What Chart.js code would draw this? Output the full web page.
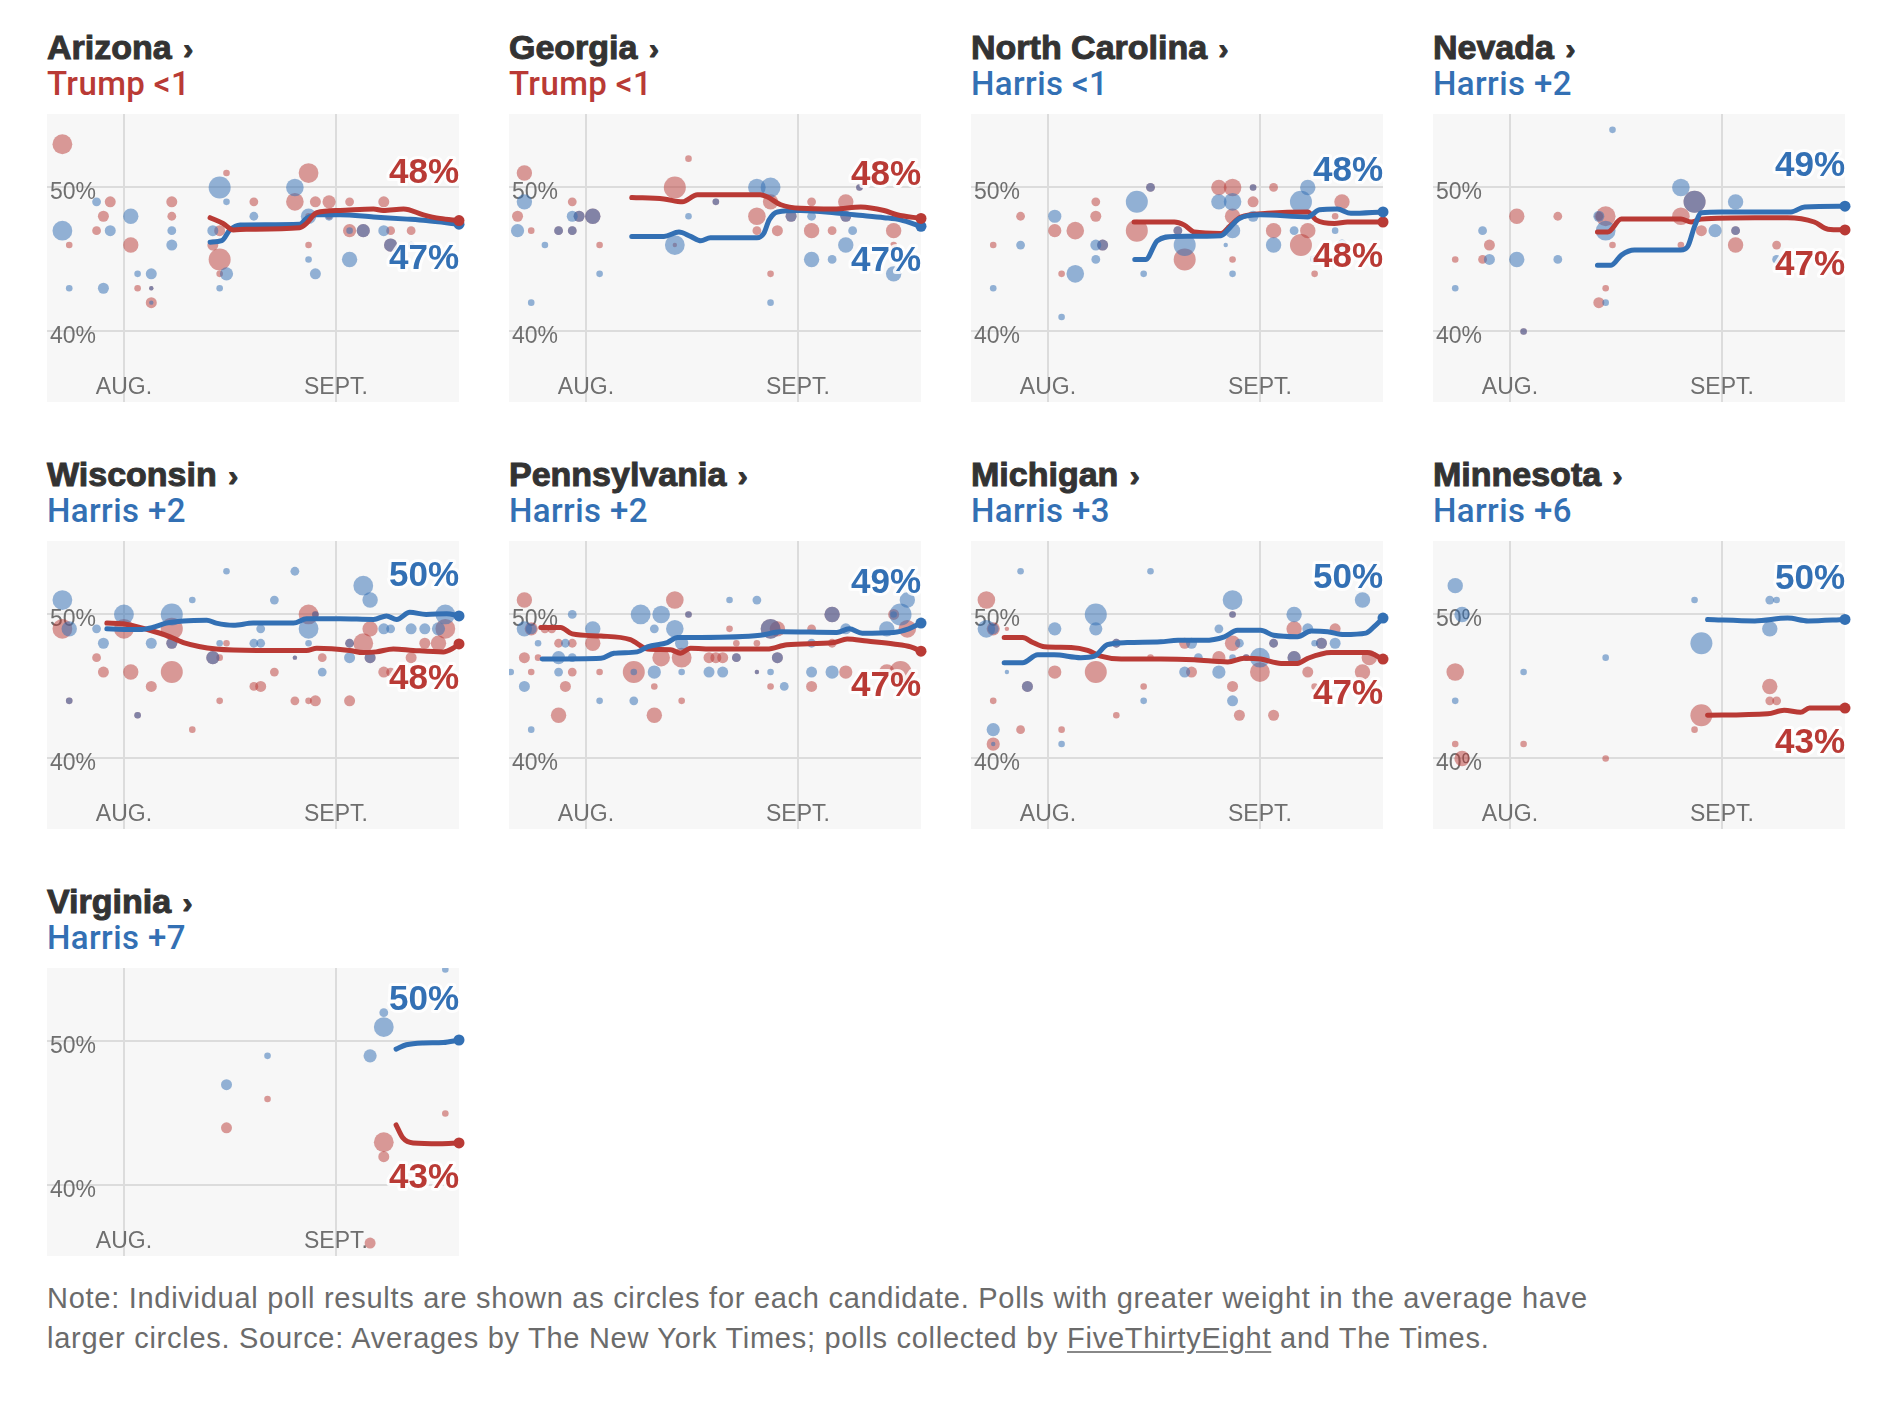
<!DOCTYPE html>
<html>
<head>
<meta charset="utf-8">
<script src="https://cdn.jsdelivr.net/npm/chart.js@4.4.1/dist/chart.umd.min.js"></script>
<style>
  html, body { margin: 0; padding: 0; background: #fff; }
  body { width: 1900px; height: 1406px; position: relative; overflow: hidden; }
  .state { position: absolute; font: bold 34px "Liberation Sans", Arial, sans-serif; color: #333; line-height: 1; white-space: nowrap; -webkit-text-stroke: 1px #333; }
  .state .chev { font-size: 30px; margin-left: 2px; }
  .lead { position: absolute; font: 500 33px Roboto, "Liberation Sans", sans-serif; letter-spacing: 0.4px; line-height: 1; white-space: nowrap; }
  canvas.panel { position: absolute; }
  .note { position: absolute; left: 47px; top: 1278px; margin: 0; font: 29px "Liberation Sans", Arial, sans-serif; letter-spacing: 0.72px; line-height: 40px; color: #6b6b6b; white-space: nowrap; }
  .note u { text-decoration-color: #888; text-underline-offset: 3px; }
</style>
</head>
<body>
<p class="note">Note: Individual poll results are shown as circles for each candidate. Polls with greater weight in the average have<br>larger circles. Source: Averages by The New York Times; polls collected by <u>FiveThirtyEight</u> and The Times.</p>
<script>
// days are counted from Aug. 1 (0 = Aug. 1, 31 = Sept. 1)
const states = ['Arizona', 'Georgia', 'North Carolina', 'Nevada', 'Wisconsin', 'Pennsylvania', 'Michigan', 'Minnesota', 'Virginia'];
const leaders = ['Trump', 'Trump', 'Harris', 'Harris', 'Harris', 'Harris', 'Harris', 'Harris', 'Harris'];
const margins = ['<1', '<1', '<1', '+2', '+2', '+2', '+3', '+6', '+7'];
const finalHarris = [47, 47, 48, 49, 50, 49, 50, 50, 50];
const finalTrump = [48, 48, 48, 47, 48, 47, 47, 43, 43];
const yTicks = [40, 50];
const monthTicks = [0, 31];
const monthLabels = ['AUG.', 'SEPT.'];

// averages: [day, pct]; polls: [day, pct, weight]
const azTrumpAvg = [[12.6,47.9],[14.5,47.5],[16,47.05],[17.9,47.1],[25.7,47.2],[26.7,47.5],[28.2,48.25],[31.6,48.4],[36.5,48.5],[37.9,48.4],[40.9,48.5],[43.8,48.1],[46.2,47.85],[49,47.7]];
const azHarrisAvg = [[12.6,46.2],[14.3,46.3],[15.5,47.05],[17,47.4],[25.7,47.45],[26.7,47.85],[28.2,48.1],[31.6,48.1],[36.5,47.95],[41.4,47.8],[44.2,47.7],[49,47.45]];
const azTrumpPolls = [[-9,53,.9],[-8,46,.3],[-2,49,.5],[-3,48,.5],[-4,47,.4],[1,46,.7],[2,43,.3],[4,43,.2],[4,42,.5],[7,49,.5],[7,48,.4],[15,51,.3],[19,49,.4],[14,47,.5],[13,46,.5],[14,45,1],[14,44,.3],[25,49,.8],[27,51,.9],[28,49,.5],[30,49,.6],[33,49,.4],[38,49,.5],[27,46,.3],[33,47,.6],[35,47,.6],[39,47,.4],[42,47,.4],[39,46,.6],[27,48,.3],[30,48,.3]];
const azHarrisPolls = [[-9,47,.9],[-8,43,.3],[-4,49,.4],[-2,47,.5],[-3,43,.5],[1,48,.7],[2,44,.3],[4,44,.5],[4,43,.2],[4,42,.2],[7,47,.4],[7,46,.5],[14,50,1],[15,49,.3],[19,48,.4],[13,47,.5],[15,44,.6],[14,43,.3],[25,50,.8],[27,48,.7],[27,45,.3],[28,44,.5],[30,48,.4],[33,47,.3],[35,47,.6],[38,47,.5],[39,46,.6],[33,45,.7],[42,46,.3]];

const gaTrumpAvg = [[6.7,49.3],[11.4,49.2],[14.1,49],[16.3,49.5],[25.5,49.5],[26.5,49.35],[28.5,48.8],[31.4,48.55],[36.3,48.5],[40.2,48.65],[43.6,48.4],[45.5,48.1],[49,47.85]];
const gaHarrisAvg = [[6.7,46.6],[11.4,46.6],[13.6,46.9],[15.3,46.6],[16.8,46.3],[18.2,46.5],[25,46.5],[26,46.8],[26.8,47.75],[28,48.3],[31.4,48.4],[36.3,48.25],[39.2,48.1],[43.6,47.9],[46,47.75],[49,47.3]];
const gaTrumpPolls = [[-9,51,.7],[-10,48,.5],[-8,47,.3],[-4,47,.4],[-2,49,.4],[-1,48,.5],[-2,47,.4],[1,48,.7],[2,46,.3],[15,52,.3],[13,50,1],[19,49,.3],[13,46,.2],[27,49,.7],[25,48,.8],[25,47,.4],[28,47,.5],[30,48,.5],[27,44,.3],[33,49,.4],[33,47,.7],[36,47,.4],[38,49,.7],[40,50,.3],[38,48,.5],[45,47,.7],[45,46,.3]];
const gaHarrisPolls = [[-9,49,.7],[-10,47,.6],[-8,42,.3],[-6,46,.3],[-4,47,.4],[-2,48,.5],[-1,48,.5],[-2,47,.4],[1,48,.7],[2,44,.3],[15,48,.3],[19,49,.3],[13,46,.9],[25,50,.8],[27,50,.9],[30,48,.5],[27,42,.3],[33,48,.4],[33,45,.7],[36,45,.4],[40,50,.3],[38,48,.5],[39,47,.4],[38,46,.7],[45,44,.7]];

const ncTrumpAvg = [[12.6,47.6],[18.5,47.6],[19.9,47.4],[21.4,46.9],[25.3,46.8],[26.8,47.4],[28.2,47.95],[32.1,48.2],[38,48.3],[39.2,47.75],[41.9,47.5],[43.8,47.6],[49,47.6]];
const ncHarrisAvg = [[12.7,45],[14.3,45],[16,46.3],[18.5,46.6],[25.3,46.65],[26.3,47.05],[28,47.85],[31.1,48.1],[38,47.95],[39.7,48.45],[42.3,48.5],[44.3,48.2],[49,48.3]];
const ncTrumpPolls = [[-8,46,.3],[-4,48,.4],[1,47,.6],[4,47,.8],[2,44,.3],[7,49,.4],[7,48,.5],[8,46,.5],[15,50,.4],[13,47,1],[19,47,.4],[20,45,1],[25,50,.7],[27,50,.8],[27,48,.7],[27,45,.3],[30,50,.3],[30,49,.5],[33,50,.4],[33,47,.7],[38,47,.7],[37,46,1],[43,49,.7],[42,48,.3],[39,44,.3]];
const ncHarrisPolls = [[-8,43,.3],[-4,46,.4],[1,48,.6],[4,44,.8],[2,41,.3],[7,46,.5],[8,46,.5],[7,45,.4],[13,49,1],[15,50,.4],[14,44,.3],[19,47,.4],[20,46,1],[25,49,.7],[27,49,.8],[27,47,.7],[26,46,.2],[27,44,.3],[30,50,.3],[30,48,.5],[33,46,.7],[36,47,.4],[38,50,.7],[37,49,1],[42,47,.3],[43,46,.5],[39,45,.4]];

const nvTrumpAvg = [[12.8,46.9],[14.3,46.9],[16.3,47.8],[25,47.8],[26.5,47.6],[28,47.8],[35.8,47.9],[40.6,47.9],[44.5,47.6],[46.5,47.1],[49,47.05]];
const nvHarrisAvg = [[12.8,44.6],[14.8,44.6],[16.3,45.3],[18.2,45.65],[25,45.65],[26,45.9],[27,47.3],[28,48.25],[30.9,48.3],[35.8,48.3],[41.1,48.3],[43.1,48.65],[49,48.7]];
const nvTrumpPolls = [[-8,45,.3],[-3,46,.5],[-4,45,.4],[1,48,.7],[2,40,.3],[7,48,.4],[14,48,.9],[15,46,.3],[14,43,.3],[13,42,.5],[25,48,.8],[27,49,1],[25,46,.3],[28,47,.5],[33,47,.4],[33,46,.7],[39,46,.4],[13,48,.4]];
const nvHarrisPolls = [[15,54,.3],[-8,43,.3],[-4,47,.4],[-3,45,.5],[1,45,.7],[2,40,.3],[7,45,.4],[13,48,.5],[14,47,.9],[14,42,.3],[25,50,.8],[27,49,1],[33,49,.7],[30,47,.6],[33,47,.4],[39,45,.4]];

const wiTrumpAvg = [[-2.5,49.4],[-0.1,49.35],[3.8,48.9],[6.2,48.55],[8.7,48.05],[13.5,47.6],[19.4,47.5],[26.7,47.5],[28.2,47.65],[33,47.5],[35,47.35],[36.9,47.4],[39.4,47.6],[42.3,47.5],[46.7,47.4],[48.1,47.65],[49,47.95]];
const wiHarrisAvg = [[-2.5,49],[2.3,48.95],[4.2,49.1],[6.2,49.4],[8.7,49.55],[12.1,49.6],[13.5,49.4],[16,49.25],[18.9,49.4],[24.8,49.4],[26.7,49.7],[31.6,49.7],[36.5,49.65],[38.4,49.9],[39.9,49.65],[41.8,50.15],[44.2,50],[47.2,50.05],[49,49.9]];
const wiTrumpPolls = [[-9,49,.9],[-8,44,.3],[-4,47,.4],[-3,46,.5],[0,49,.9],[1,46,.7],[2,43,.3],[4,45,.5],[7,49,1],[7,48,.5],[7,46,1],[10,42,.3],[13,47,.6],[15,48,.3],[14,47,.3],[14,44,.3],[19,45,.4],[20,45,.5],[22,46,.4],[25,44,.4],[25,47,.2],[27,50,.9],[28,50,.3],[27,44,.3],[28,44,.5],[29,47,.4],[36,49,.7],[35,48,.9],[33,48,.4],[36,47,.5],[33,44,.5],[38,46,.5],[39,46,.4],[42,47,.5],[44,48,.5],[47,49,.9],[46,48,.7]];
const wiHarrisPolls = [[-9,51,.9],[-8,49,.7],[-8,44,.3],[-4,49,.4],[-3,48,.5],[0,50,.9],[2,43,.3],[4,48,.5],[7,50,1],[7,48,.5],[10,51,.3],[15,53,.3],[13,47,.6],[14,48,.3],[19,48,.4],[20,48,.4],[20,49,.4],[22,51,.4],[25,53,.4],[25,47,.2],[27,49,.9],[27,48,.3],[28,50,.3],[29,46,.4],[35,52,.9],[36,51,.7],[33,48,.4],[33,47,.5],[36,47,.5],[38,49,.5],[39,49,.4],[42,49,.5],[44,49,.5],[47,50,.9],[46,49,.6]];

const paTrumpAvg = [[-6.6,49.1],[-3.7,49.1],[-2,48.65],[2.2,48.5],[6.5,48.25],[9,47.6],[12.4,47.55],[13.8,47.3],[15.3,47.65],[18.7,47.6],[26.5,47.6],[29.4,47.9],[36.3,48.05],[38.2,48.3],[41.1,48.15],[45,47.95],[47.5,47.75],[49,47.45]];
const paHarrisAvg = [[-6.4,46.9],[2.2,46.95],[4.1,47.3],[7.5,47.4],[9,47.75],[11.9,48.05],[13.4,48.4],[16.8,48.4],[25.5,48.55],[28.5,48.8],[36.7,48.75],[38.5,49],[40.4,48.7],[45,48.75],[47.2,49],[49,49.4]];
const paTrumpPolls = [[-9,51,.7],[-8,49,.6],[-6,49,.4],[-5,49,.4],[-9,47,.5],[-7,47,.3],[-8,46,.3],[-4,48,.4],[-2,48,.4],[-2,46,.4],[-3,45,.5],[-4,43,.7],[1,48,.7],[2,46,.3],[13,51,.8],[15,50,.3],[7,46,1],[11,47,.8],[14,47,.9],[10,45,.3],[14,44,.3],[10,43,.7],[21,49,.3],[18,47,.5],[19,47,.5],[20,47,.5],[22,47,.4],[22,48,.3],[25,48,.3],[27,49,.9],[28,49,.7],[28,47,.5],[25,46,.2],[27,45,.3],[36,50,.7],[33,49,.4],[33,45,.5],[38,46,.6],[36,48,.4],[45,50,.5],[47,49,.8],[46,46,1],[44,46,.7]];
const paHarrisPolls = [[-9,49,.7],[-8,49,.5],[-2,50,.4],[-7,48,.3],[-9,45,.5],[-8,42,.3],[-11,46,.3],[-4,47,.6],[-3,48,.4],[-2,47,.4],[-4,46,.4],[1,49,.7],[2,44,.3],[8,50,.9],[11,50,.8],[13,49,.8],[15,50,.3],[10,49,.4],[10,46,.6],[14,48,.6],[14,46,.3],[7,44,.4],[7,46,.3],[21,51,.3],[25,51,.4],[22,47,.4],[18,46,.5],[20,46,.5],[27,49,.9],[28,47,.5],[25,46,.2],[27,46,.3],[29,45,.4],[36,50,.7],[33,48,.4],[33,46,.5],[36,46,.6],[38,49,.5],[46,50,1],[47,51,.7],[44,49,.7],[45,50,.3]];

const miTrumpAvg = [[-6.4,48.4],[-3.7,48.4],[-2.2,48.05],[-0.5,47.75],[3.4,47.7],[5.8,47.5],[7.7,47.1],[10.7,46.9],[16.5,46.9],[21.4,46.85],[26.3,46.7],[28.7,46.95],[31.1,46.9],[34.1,46.6],[36.5,46.6],[38,46.95],[41.4,47.35],[46.7,47.35],[49,46.9]];
const miHarrisAvg = [[-6.4,46.65],[-3.7,46.65],[-1.5,47.2],[0.9,47.2],[4.8,47],[6.8,47.1],[8.7,47.9],[11.6,48.05],[16.5,48.1],[19,48.2],[22.9,48.2],[25.8,48.45],[27.7,48.9],[31.1,48.9],[33,48.55],[36.5,48.45],[38.5,48.85],[40.9,48.8],[43.3,48.6],[46.5,48.7],[47.7,49.15],[49,49.75]];
const miTrumpPolls = [[-9,51,.8],[-8,49,.6],[-6,49,.2],[-3,45,.5],[-8,44,.3],[-4,42,.4],[-8,41,.6],[1,46,.6],[2,42,.3],[7,46,1],[10,48,.4],[10,43,.3],[15,47,.3],[14,45,.3],[20,48,.5],[21,46,.5],[25,47,.6],[27,50,.3],[27,48,.7],[29,47,.3],[27,45,.5],[28,43,.5],[31,46,.9],[33,48,.4],[33,43,.5],[36,49,.7],[36,47,.6],[38,46,.5],[39,45,.3],[40,48,.5],[42,49,.5],[46,46,.7],[47,47,.7]];
const miHarrisPolls = [[-9,49,.8],[-8,49,.5],[-6,46,.2],[-4,53,.3],[-3,45,.5],[-8,42,.6],[-8,41,.2],[1,49,.6],[2,41,.3],[7,50,1],[7,49,.6],[10,48,.4],[15,53,.3],[14,44,.3],[21,48,.5],[20,46,.5],[22,47,.4],[25,49,.4],[25,46,.6],[27,51,.9],[27,50,.3],[28,48,.4],[27,47,.3],[29,47,.3],[27,44,.5],[31,47,.9],[33,48,.4],[36,50,.7],[36,47,.6],[38,49,.5],[39,48,.3],[40,48,.5],[42,48,.5],[46,51,.7]];

const mnTrumpAvg = [[28.9,43],[37.7,43.1],[40.1,43.35],[42.5,43.2],[43.8,43.5],[49,43.5]];
const mnHarrisAvg = [[28.9,49.65],[35.8,49.55],[40.6,49.75],[43.6,49.55],[49,49.65]];
const mnTrumpPolls = [[-8,46,.8],[-8,41,.3],[-7,40,.7],[2,41,.3],[14,40,.3],[28,43,1],[27,42,.3],[38,45,.7],[38,44,.4],[39,44,.4]];
const mnHarrisPolls = [[-8,52,.7],[-7,50,.7],[-8,44,.3],[2,46,.3],[14,47,.3],[27,51,.3],[28,48,1],[38,51,.4],[39,51,.3],[38,49,.7]];

const vaTrumpAvg = [[39.8,44.2],[40.8,43.3],[42.3,42.95],[46.2,42.9],[49,42.95]];
const vaHarrisAvg = [[39.8,49.47],[41.3,49.77],[43.8,49.9],[46.7,49.93],[49,50.1]];
const vaTrumpPolls = [[15,44,.5],[21,46,.3],[47,45,.3],[38,43,.9],[38,42,.5],[36,36,.5]];
const vaHarrisPolls = [[15,47,.5],[21,49,.3],[36,49,.6],[38,51,.9],[38,52,.4],[47,55,.3]];

const trumpAvgs = [azTrumpAvg, gaTrumpAvg, ncTrumpAvg, nvTrumpAvg, wiTrumpAvg, paTrumpAvg, miTrumpAvg, mnTrumpAvg, vaTrumpAvg];
const harrisAvgs = [azHarrisAvg, gaHarrisAvg, ncHarrisAvg, nvHarrisAvg, wiHarrisAvg, paHarrisAvg, miHarrisAvg, mnHarrisAvg, vaHarrisAvg];
const trumpPolls = [azTrumpPolls, gaTrumpPolls, ncTrumpPolls, nvTrumpPolls, wiTrumpPolls, paTrumpPolls, miTrumpPolls, mnTrumpPolls, vaTrumpPolls];
const harrisPolls = [azHarrisPolls, gaHarrisPolls, ncHarrisPolls, nvHarrisPolls, wiHarrisPolls, paHarrisPolls, miHarrisPolls, mnHarrisPolls, vaHarrisPolls];

const RED = '#b93a35';
const BLUE = '#3370b4';
const RED_DOT = 'rgba(185,58,53,0.5)';
const BLUE_DOT = 'rgba(51,112,180,0.52)';

const panelDecor = {
  id: 'panelDecor',
  beforeDraw(chart) {
    const { ctx, chartArea: a } = chart;
    ctx.save();
    ctx.fillStyle = '#f7f7f7';
    ctx.fillRect(a.left, a.top, a.right - a.left, a.bottom - a.top);
    ctx.restore();
  },
  beforeDatasetsDraw(chart) {
    // axis labels sit inside the plot, under the dots
    const { ctx, chartArea: a, scales: { x, y } } = chart;
    ctx.save();
    ctx.fillStyle = '#6f6f6f';
    ctx.font = '23px "Liberation Sans", Arial, sans-serif';
    ctx.textBaseline = 'alphabetic';
    ctx.textAlign = 'left';
    yTicks.forEach(v => ctx.fillText(v + '%', a.left + 3, y.getPixelForValue(v) + 12));
    ctx.textAlign = 'center';
    monthTicks.forEach((d, i) => ctx.fillText(monthLabels[i], x.getPixelForValue(d), a.bottom - 8));
    ctx.restore();
  },
  afterDatasetsDraw(chart, args, opts) {
    const { ctx, chartArea: a } = chart;
    const ends = opts.lines.map(l => {
      const pts = chart.getDatasetMeta(l.index).data;
      return { y: pts[pts.length - 1].y, text: l.text, color: l.color };
    });
    ends.sort((p, q) => p.y - q.y);
    // lower label hangs below its line, upper label sits above and keeps clear of it
    const lowY = ends[1].y + 35;
    const highY = Math.min(ends[0].y - 40, lowY - 86);
    ctx.save();
    ctx.font = 'bold 35px "Liberation Sans", Arial, sans-serif';
    ctx.textAlign = 'right';
    ctx.textBaseline = 'middle';
    ctx.lineJoin = 'round';
    ends.forEach((e, i) => {
      const ty = i === 0 ? highY : lowY;
      ctx.strokeStyle = 'rgba(255,255,255,0.85)';
      ctx.lineWidth = 6;
      ctx.strokeText(e.text, a.right, ty);
      ctx.fillStyle = e.color;
      ctx.fillText(e.text, a.right, ty);
    });
    ctx.restore();
  }
};

const toPts = arr => arr.map(d => ({ x: d[0], y: d[1], w: d[2] }));

function lineSet(data, color, order) {
  return {
    data: toPts(data),
    showLine: true,
    borderColor: color,
    backgroundColor: color,
    borderWidth: 5,
    borderCapStyle: 'round',
    borderJoinStyle: 'round',
    cubicInterpolationMode: 'monotone',
    pointRadius: c => (c.dataIndex === data.length - 1 ? 5.5 : 0),
    pointBorderWidth: 0,
    pointHoverRadius: 0,
    clip: false,
    order
  };
}

function dotSet(data, color, order) {
  return {
    data: toPts(data),
    showLine: false,
    backgroundColor: color,
    borderWidth: 0,
    pointRadius: c => c.raw.w * 11,
    clip: 0,
    order
  };
}

states.forEach((name, i) => {
  const col = i % 4, row = Math.floor(i / 4);
  const left = 47 + col * 462;
  const top = row * 427;

  const title = document.createElement('div');
  title.className = 'state';
  title.style.left = left + 'px';
  title.style.top = (30 + top) + 'px';
  title.innerHTML = name + ' <span class="chev">›</span>';
  document.body.appendChild(title);

  const lead = document.createElement('div');
  lead.className = 'lead';
  lead.style.left = left + 'px';
  lead.style.top = (67 + top) + 'px';
  lead.style.color = leaders[i] === 'Trump' ? RED : BLUE;
  lead.textContent = leaders[i] + ' ' + margins[i];
  document.body.appendChild(lead);

  const cv = document.createElement('canvas');
  cv.className = 'panel';
  cv.width = 420;
  cv.height = 288;
  cv.style.left = left + 'px';
  cv.style.top = (114 + top) + 'px';
  document.body.appendChild(cv);

  const trumpLeads = leaders[i] === 'Trump';
  new Chart(cv, {
    type: 'scatter',
    data: {
      datasets: [
        lineSet(trumpAvgs[i], RED, trumpLeads ? 0 : 1),
        lineSet(harrisAvgs[i], BLUE, trumpLeads ? 1 : 0),
        dotSet(harrisPolls[i], BLUE_DOT, 2),
        dotSet(trumpPolls[i], RED_DOT, 3)
      ]
    },
    options: {
      responsive: false,
      animation: false,
      events: [],
      layout: { autoPadding: false, padding: { left: 0, top: 0, bottom: 0, right: 8 } },
      plugins: {
        legend: { display: false },
        tooltip: { enabled: false },
        panelDecor: {
          lines: [
            { index: 0, text: finalTrump[i] + '%', color: RED },
            { index: 1, text: finalHarris[i] + '%', color: BLUE }
          ]
        }
      },
      scales: {
        x: {
          type: 'linear', min: -11.25, max: 49,
          border: { display: false },
          grid: { color: '#dcdcdc', lineWidth: 2, drawTicks: false },
          ticks: { display: false },
          afterBuildTicks: axis => { axis.ticks = monthTicks.map(v => ({ value: v })); }
        },
        y: {
          type: 'linear', min: 35.1, max: 55.1,
          border: { display: false },
          grid: { color: '#dcdcdc', lineWidth: 2, drawTicks: false },
          ticks: { display: false },
          afterBuildTicks: axis => { axis.ticks = yTicks.map(v => ({ value: v })); }
        }
      }
    },
    plugins: [panelDecor]
  });
});
</script>
</body>
</html>
